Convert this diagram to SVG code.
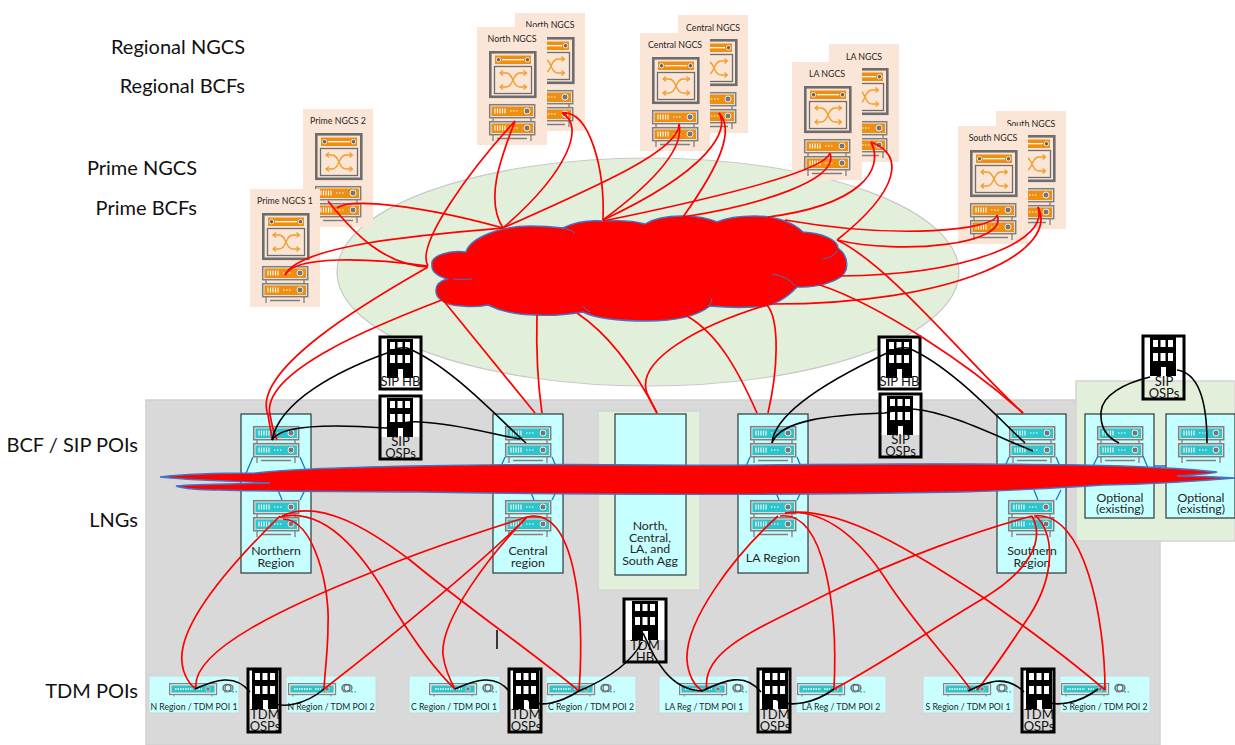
<svg xmlns="http://www.w3.org/2000/svg" xmlns:xlink="http://www.w3.org/1999/xlink" width="1235" height="745" viewBox="0 0 1235 745">
<style>
text{font-family:Lato,"Liberation Sans",sans-serif;fill:#262626;text-anchor:middle}
.lbl{font-size:20px;fill:#111;text-anchor:end}
.card{fill:#fbe5d6}
.cn{font-size:8.8px}
.box{fill:#c6ffff;stroke:#2b3a3a;stroke-width:1.2}
.rg{font-size:12.3px}
.poi{fill:#c9ffff;stroke:#d4d4d4;stroke-width:1}
.pt{font-size:8.7px}
.bt{font-size:13px;fill:#111}
.bd{fill:none;stroke:#000;stroke-width:3}
.r{fill:none;stroke:#f00;stroke-width:1.700}
.k{fill:none;stroke:#000;stroke-width:1.600}
.bus{fill:none;stroke:#1c74c8;stroke-width:1.300}
.cl{fill:#f00;stroke:#4472c4;stroke-width:1.400}
.arc{fill:none;stroke:#4472c4;stroke-width:1}
</style>
<defs>
<g id="unit">
<rect x="0.700" y="0.700" width="45" height="13" fill="#e4e4e4" stroke="#7f7f7f" stroke-width="1.500"/>
<rect x="2.500" y="2.500" width="41.500" height="9.500" fill="currentColor"/>
<path d="M6,4.500v5M8.500,4.500v5M11,4.500v5M13.500,4.500v5M16,4.500v5M21,7h1.500M24,7h1.500M27,7h1.500" stroke="#fff" stroke-width="1.100" fill="none"/>
<circle cx="38" cy="7" r="3" fill="#777" stroke="#eee"/>
</g>
<g id="rack">
<use href="#unit"/>
<use href="#unit" y="17"/>
<path d="M4,14v3M42,14v3M4,31v6M42,31v6M8,34.500h30" stroke="#7f7f7f" stroke-width="1.300" fill="none"/>
</g>
<g id="switch">
<rect x="1.300" y="1.300" width="45" height="44.500" fill="none" stroke="#6d6d6d" stroke-width="2.600"/>
<rect x="6" y="4.500" width="36" height="8.500" fill="#ef8f12"/>
<path d="M13,8.700h22" stroke="#fff" stroke-width="1.200"/>
<circle cx="9.500" cy="8.700" r="2.200" fill="#666" stroke="#fff" stroke-width=".8"/>
<circle cx="38.500" cy="8.700" r="2.200" fill="#666" stroke="#fff" stroke-width=".8"/>
<rect x="5.500" y="15.500" width="37" height="27" fill="none" stroke="#6d6d6d" stroke-width="1.300"/>
<path d="M12,22h5C25,22 23,36 31,36h6M12,36h5C25,36 23,22 31,22h6M14,19.500l-3,2.500l3,2.500M14,33.500l-3,2.500l3,2.500M34.500,19.500l3,2.500l-3,2.500M34.500,33.500l3,2.500l-3,2.500" fill="none" stroke="#f0a030" stroke-width="1.300"/>
</g>
<g id="ngcs">
<rect class="card" width="70" height="118"/>
<use href="#switch" x="12" y="24"/>
<use href="#rack" x="12" y="77" color="#ef8f12"/>
</g>
<g id="tower">
<rect width="26" height="39" fill="#000"/>
<path d="M3,3h5v7h-5zM10.500,3h5v7h-5zM18,3h5v7h-5zM3,16h5v8h-5zM10.500,16h5v8h-5zM18,16h5v8h-5zM11,30h5v9h-5z" fill="#fff"/>
</g>
<g id="dev">
<rect x="0.600" y="0.600" width="47" height="11" fill="#e4e4e4" stroke="#808080" stroke-width="1.100"/>
<rect x="2.500" y="2.500" width="43" height="7" fill="#2cc5cc"/>
<path d="M6,6h18M27,6h6" stroke="#fff" stroke-width="1.500" stroke-dasharray="1.500 1" fill="none"/>
<circle cx="39" cy="6" r="2.200" fill="#777" stroke="#eee" stroke-width=".7"/>
<path d="M5,12v1.500M43,12v1.500" stroke="#808080"/>
<ellipse cx="58" cy="5" rx="4" ry="3.500" fill="none" stroke="#666" stroke-width="1.400"/>
<ellipse cx="60" cy="5" rx="4" ry="3.500" fill="none" stroke="#666" stroke-width="1.200"/>
<path d="M55,8.700h5" stroke="#888" stroke-width="1.300"/>
<path d="M63,8.700h5" stroke="#2cc5cc" stroke-width="1.500" stroke-dasharray="2 1.500"/>
</g>
<path id="bus" class="bus" d="M12,43l-9,21M59,43l9,21M37,76l4,10M64,76l-5,10"/>
</defs>

<rect id="lan-area" x="146" y="400" width="1014" height="345" fill="#d9d9d9" stroke="#d0d0d0" stroke-width="1.500"/>
<rect id="optional-area" x="1076" y="381" width="159" height="160" fill="#e2efda" stroke="#d4d4d4" stroke-width="1.500"/>
<rect id="agg-area" x="598" y="411" width="102" height="179" fill="#e2efda" stroke="#d4d4d4" stroke-width="1.500"/>
<ellipse id="core-ellipse" cx="648" cy="272" rx="311" ry="114" fill="#e2efda" stroke="#c8c8c8" stroke-width="1.200"/>

<text class="lbl" x="245" y="54">Regional NGCS</text>
<text class="lbl" x="245" y="93">Regional BCFs</text>
<text class="lbl" x="197" y="175">Prime NGCS</text>
<text class="lbl" x="197" y="215">Prime BCFs</text>
<text class="lbl" x="138" y="452">BCF / SIP POIs</text>
<text class="lbl" x="138" y="527">LNGs</text>
<text class="lbl" x="138" y="698">TDM POIs</text>

<g id="prime2"><use href="#ngcs" x="303" y="109"/><text class="cn" x="338" y="124">Prime NGCS 2</text></g>
<g id="prime1"><use href="#ngcs" x="250" y="189"/><text class="cn" x="285" y="204">Prime NGCS 1</text></g>
<g id="north-b"><use href="#ngcs" x="515" y="13"/><text class="cn" x="550" y="28">North NGCS</text></g>
<g id="north-a"><use href="#ngcs" x="477" y="27"/><text class="cn" x="512" y="42">North NGCS</text></g>
<g id="central-b"><use href="#ngcs" x="678" y="15"/><text class="cn" x="713" y="31">Central NGCS</text></g>
<g id="central-a"><use href="#ngcs" x="640" y="33"/><text class="cn" x="675" y="48">Central NGCS</text></g>
<g id="la-b"><use href="#ngcs" x="829" y="44"/><text class="cn" x="864" y="60">LA NGCS</text></g>
<g id="la-a"><use href="#ngcs" x="792" y="62"/><text class="cn" x="827" y="77">LA NGCS</text></g>
<g id="south-b"><use href="#ngcs" x="996" y="111"/><text class="cn" x="1031" y="127">South NGCS</text></g>
<g id="south-a"><use href="#ngcs" x="958" y="126"/><text class="cn" x="993" y="141">South NGCS</text></g>

<g id="core-cloud">
<path class="cl" d="M432,265 C430,256 448,250 466,252 C470,238 500,226 530,226 C545,226 555,227 563,228 C575,222 590,220 603,221 C620,220 635,221 645,224 C655,218 668,216 682,216 C697,216 708,218 717,222 C728,217 742,216 755,216 C778,216 795,224 803,232 C822,233 838,240 838,248 C846,254 848,262 846,270 C842,282 815,288 797,287 C785,300 770,307 755,307 C738,308 720,307 710,306 C695,318 670,321 647,321 C620,321 595,318 583,312 C565,315 550,316 537,315 C515,315 500,311 488,305 C478,307 470,307 462,306 C445,306 435,298 436,290 C436,285 440,281 447,279 C438,276 431,272 432,265 Z"/>
<path class="arc" d="M562,228 Q570,229 575,233M453,279 Q462,280 472,279M772,274 Q788,276 795,286M823,259 Q834,257 838,250M712,298 Q712,303 708,306M583,306 Q586,310 590,312"/>
</g>

<g id="northern-region"><rect class="box" x="241" y="414" width="70" height="159"/><use href="#bus" x="241" y="414"/><use href="#rack" x="253" y="426" color="#2cc5cc"/><use href="#rack" x="253" y="500" color="#2cc5cc"/><text class="rg" x="276" y="555">Northern</text><text class="rg" x="276" y="567">Region</text></g>
<g id="central-region"><rect class="box" x="493" y="414" width="70" height="159"/><use href="#bus" x="493" y="414"/><use href="#rack" x="505" y="426" color="#2cc5cc"/><use href="#rack" x="505" y="500" color="#2cc5cc"/><text class="rg" x="528" y="555">Central</text><text class="rg" x="528" y="567">region</text></g>
<g id="agg-region"><rect class="box" x="615" y="414" width="71" height="161"/><text class="rg" x="650" y="530">North,</text><text class="rg" x="650" y="542">Central,</text><text class="rg" x="650" y="553">LA, and</text><text class="rg" x="650" y="565">South Agg</text></g>
<g id="la-region"><rect class="box" x="738" y="414" width="70" height="159"/><use href="#bus" x="738" y="414"/><use href="#rack" x="750" y="426" color="#2cc5cc"/><use href="#rack" x="750" y="500" color="#2cc5cc"/><text class="rg" x="773" y="562">LA Region</text></g>
<g id="southern-region"><rect class="box" x="997" y="414" width="69" height="159"/><use href="#bus" x="997" y="414"/><use href="#rack" x="1009" y="426" color="#2cc5cc"/><use href="#rack" x="1008" y="500" color="#2cc5cc"/><text class="rg" x="1032" y="555">Southern</text><text class="rg" x="1032" y="567">Region</text></g>
<g id="optional-1"><rect class="box" x="1085" y="414" width="69" height="104"/><use href="#rack" x="1097" y="426" color="#2cc5cc"/><path class="bus" d="M1098,456l-6,12M1143,456l5,12M1154,466h12"/><text class="rg" x="1120" y="502">Optional</text><text class="rg" x="1120" y="513">(existing)</text></g>
<g id="optional-2"><rect class="box" x="1166" y="414" width="69" height="104"/><use href="#rack" x="1178" y="426" color="#2cc5cc"/><text class="rg" x="1201" y="502">Optional</text><text class="rg" x="1201" y="513">(existing)</text></g>

<path id="lan-cloud" class="cl" d="M160,477 C185,474 225,473 256,473 C300,467 500,463 650,465 C780,466 900,462 1080,465 C1130,466 1190,469 1217,472 C1210,474 1190,475 1177,476 C1200,476 1220,477 1235,478 C1200,481 1160,484 1103,485 C1060,488 980,492 960,492 C800,495 600,495 420,492 C340,491 280,492 220,490 C205,490 185,489 176,486 C200,484 240,484 270,483 C230,481 185,480 160,477 Z"/>

<g id="poi-n1"><rect class="poi" x="149" y="676" width="90" height="37"/><use href="#dev" x="169" y="683"/><text class="pt" x="194" y="710">N Region / TDM POI 1</text></g>
<g id="poi-n2"><rect class="poi" x="286" y="676" width="90" height="37"/><use href="#dev" x="288" y="683"/><text class="pt" x="331" y="710">N Region / TDM POI 2</text></g>
<g id="poi-c1"><rect class="poi" x="409" y="676" width="91" height="37"/><use href="#dev" x="429" y="683"/><text class="pt" x="454" y="710">C Region / TDM POI 1</text></g>
<g id="poi-c2"><rect class="poi" x="546" y="676" width="90" height="37"/><use href="#dev" x="547" y="683"/><text class="pt" x="591" y="710">C Region / TDM POI 2</text></g>
<g id="poi-la1"><rect class="poi" x="659" y="676" width="90" height="37"/><use href="#dev" x="679" y="683"/><text class="pt" x="704" y="710">LA Reg / TDM POI 1</text></g>
<g id="poi-la2"><rect class="poi" x="796" y="676" width="90" height="37"/><use href="#dev" x="797" y="683"/><text class="pt" x="841" y="710">LA Reg / TDM POI 2</text></g>
<g id="poi-s1"><rect class="poi" x="923" y="676" width="91" height="37"/><use href="#dev" x="943" y="683"/><text class="pt" x="968" y="710">S Region / TDM POI 1</text></g>
<g id="poi-s2"><rect class="poi" x="1060" y="676" width="90" height="37"/><use href="#dev" x="1061" y="683"/><text class="pt" x="1105" y="710">S Region / TDM POI 2</text></g>

<g id="sip-hb-1"><rect x="380" y="337" width="41" height="40" fill="#fff"/><use href="#tower" x="387" y="339"/><text class="bt" x="400.500" y="386">SIP HB</text><rect class="bd" x="380" y="337" width="41" height="52"/></g>
<g id="sip-osp-1"><rect x="380" y="396" width="41" height="41" fill="#fff"/><use href="#tower" x="387" y="398"/><text class="bt" x="400.500" y="446">SIP</text><text class="bt" x="400.500" y="458">OSPs</text><rect class="bd" x="380" y="396" width="41" height="63"/></g>
<g id="sip-hb-2"><rect x="879" y="337" width="41" height="40" fill="#fff"/><use href="#tower" x="886" y="339"/><text class="bt" x="899.500" y="386">SIP HB</text><rect class="bd" x="879" y="337" width="41" height="52"/></g>
<g id="sip-osp-2"><rect x="880" y="394" width="41" height="41" fill="#fff"/><use href="#tower" x="887" y="396"/><text class="bt" x="900.500" y="444">SIP</text><text class="bt" x="900.500" y="456">OSPs</text><rect class="bd" x="880" y="394" width="41" height="63"/></g>
<g id="sip-osp-3"><rect x="1143" y="336" width="41" height="41" fill="#fff"/><use href="#tower" x="1150" y="337"/><text class="bt" x="1164" y="386">SIP</text><text class="bt" x="1164" y="398">OSPs</text><rect class="bd" x="1143" y="336" width="41" height="63"/></g>
<g id="tdm-hb"><rect x="624" y="599" width="42" height="41" fill="#fff"/><use href="#tower" x="632" y="601"/><text class="bt" x="645" y="650">TDM</text><text class="bt" x="645" y="662">HB</text><rect class="bd" x="624" y="599" width="42" height="63"/></g>
<g id="tdm-osp-n"><rect x="248" y="669" width="32" height="41" fill="#fff"/><use href="#tower" x="252" y="670"/><text class="bt" x="265" y="719">TDM</text><text class="bt" x="265" y="731">OSPs</text><rect class="bd" x="248" y="669" width="32" height="63"/></g>
<g id="tdm-osp-c"><rect x="509" y="669" width="32" height="41" fill="#fff"/><use href="#tower" x="513" y="670"/><text class="bt" x="526" y="719">TDM</text><text class="bt" x="526" y="731">OSPs</text><rect class="bd" x="509" y="669" width="32" height="63"/></g>
<g id="tdm-osp-la"><rect x="758" y="669" width="32" height="41" fill="#fff"/><use href="#tower" x="762" y="670"/><text class="bt" x="775" y="719">TDM</text><text class="bt" x="775" y="731">OSPs</text><rect class="bd" x="758" y="669" width="32" height="63"/></g>
<g id="tdm-osp-s"><rect x="1022" y="669" width="32" height="41" fill="#fff"/><use href="#tower" x="1026" y="670"/><text class="bt" x="1039" y="719">TDM</text><text class="bt" x="1039" y="731">OSPs</text><rect class="bd" x="1022" y="669" width="32" height="63"/></g>

<g id="connectors">
<g class="r">
<path class="r" d="M285,275 C300,245 420,235 503,228"/>
<path class="r" d="M285,275 C295,255 370,258 428,266"/>
<path class="r" d="M337,208 C350,198 420,205 503,228"/>
<path class="r" d="M328,201 C355,235 385,265 428,267"/>
<path class="r" d="M515,121 C470,170 415,245 428,266"/>
<path class="r" d="M515,121 C500,160 485,200 503,228"/>
<path class="r" d="M562,113 C585,125 570,170 503,228"/>
<path class="r" d="M562,113 C590,110 605,170 603,220"/>
<path class="r" d="M679,124 C680,150 600,185 503,228"/>
<path class="r" d="M679,124 C685,150 650,185 603,220"/>
<path class="r" d="M719,113 C730,130 710,170 603,220"/>
<path class="r" d="M719,113 C735,130 720,165 683,217"/>
<path class="r" d="M830,153 C825,170 730,195 603,221"/>
<path class="r" d="M830,153 C840,180 760,205 683,217"/>
<path class="r" d="M871,142 C885,170 860,205 768,217"/>
<path class="r" d="M871,142 C905,155 900,190 837,240"/>
<path class="r" d="M997,215 C995,230 900,240 785,220"/>
<path class="r" d="M997,215 C1010,245 900,255 837,240"/>
<path class="r" d="M1038,207 C1050,240 970,275 840,276"/>
<path class="r" d="M1038,207 C1060,250 960,305 767,304"/>
<path class="r" d="M428,267 C370,300 250,370 268,415 C270,428 272,435 272,440"/>
<path class="r" d="M442,300 C385,322 260,370 270,415 C272,428 275,435 277,440"/>
<path class="r" d="M443,300 L535,413"/>
<path class="r" d="M537,315 C536,350 538,385 542,413"/>
<path class="r" d="M577,313 C610,335 635,370 657,413"/>
<path class="r" d="M767,305 C700,325 635,360 647,393 C650,400 654,407 657,413"/>
<path class="r" d="M687,316 C720,335 740,375 757,413"/>
<path class="r" d="M767,305 C780,320 778,370 768,413"/>
<path class="r" d="M820,285 C880,305 970,365 1023,413"/>
<path class="r" d="M837,240 C890,265 970,365 1023,413"/>
<path class="r" d="M280,516 C230,565 178,625 182,662 C183,675 190,685 196,689"/>
<path class="r" d="M283,519 C315,520 330,590 328,625 C328,650 325,670 324,689"/>
<path class="r" d="M280,517 C330,505 370,565 395,610 C420,650 440,675 455,689"/>
<path class="r" d="M282,516 C320,498 370,530 410,560 C470,610 530,650 579,691"/>
<path class="r" d="M527,517 C470,535 410,555 370,573 C290,605 190,650 196,689"/>
<path class="r" d="M527,517 C490,555 400,630 324,689"/>
<path class="r" d="M527,517 C490,555 440,620 443,655 C445,670 450,680 455,689"/>
<path class="r" d="M527,517 C575,505 585,610 579,691"/>
<path class="r" d="M778,516 C735,555 685,620 687,660 C688,675 695,687 702,690"/>
<path class="r" d="M780,516 C825,510 838,610 834,689"/>
<path class="r" d="M785,513 C825,508 860,540 885,578 C915,625 950,660 971,690"/>
<path class="r" d="M785,513 C840,505 910,550 984,598 C1030,630 1070,660 1105,690"/>
<path class="r" d="M1032,516 C980,530 900,558 829,593 C760,628 700,650 707,690"/>
<path class="r" d="M1032,516 C1045,540 1030,570 984,598 C930,630 880,665 834,689"/>
<path class="r" d="M1036,516 C1055,535 1055,575 1030,615 C1010,645 990,675 977,690"/>
<path class="r" d="M1034,516 C1085,510 1105,620 1105,690"/>
</g>
<g class="k">
<path class="k" d="M272,440 C280,400 340,370 387,353 C395,349 400,347 407,348 C450,365 500,420 526,443"/>
<path class="k" d="M272,440 C280,425 330,424 386,428 C395,424 410,421 420,422 C460,424 495,435 520,439"/>
<path class="k" d="M772,443 C775,410 840,375 887,353 C895,349 900,347 908,348 C950,365 1000,420 1025,443"/>
<path class="k" d="M772,443 C780,420 830,415 885,413 C895,410 905,408 913,409 C950,412 1000,438 1033,451"/>
<path class="k" d="M1119,443 C1108,438 1100,428 1101,412 C1102,395 1125,383 1150,377"/>
<path class="k" d="M1177,370 C1198,373 1207,400 1207,443"/>
<path class="k" d="M195,689 C215,680 235,673 250,692"/>
<path class="k" d="M268,700 C280,710 305,705 324,689"/>
<path class="k" d="M455,689 C475,680 495,673 510,692"/>
<path class="k" d="M528,700 C540,708 560,703 579,691 C605,680 630,665 642,642"/>
<path class="k" d="M643,633 C655,660 670,690 702,691 C725,680 745,672 761,692"/>
<path class="k" d="M777,700 C790,708 815,703 834,689"/>
<path class="k" d="M968,691 C985,683 1005,673 1024,692"/>
<path class="k" d="M1043,700 C1055,708 1080,703 1098,689"/>
</g>
</g>
<path id="text-cursor" d="M497,630V649" stroke="#000" stroke-width="1.500"/>
</svg>
